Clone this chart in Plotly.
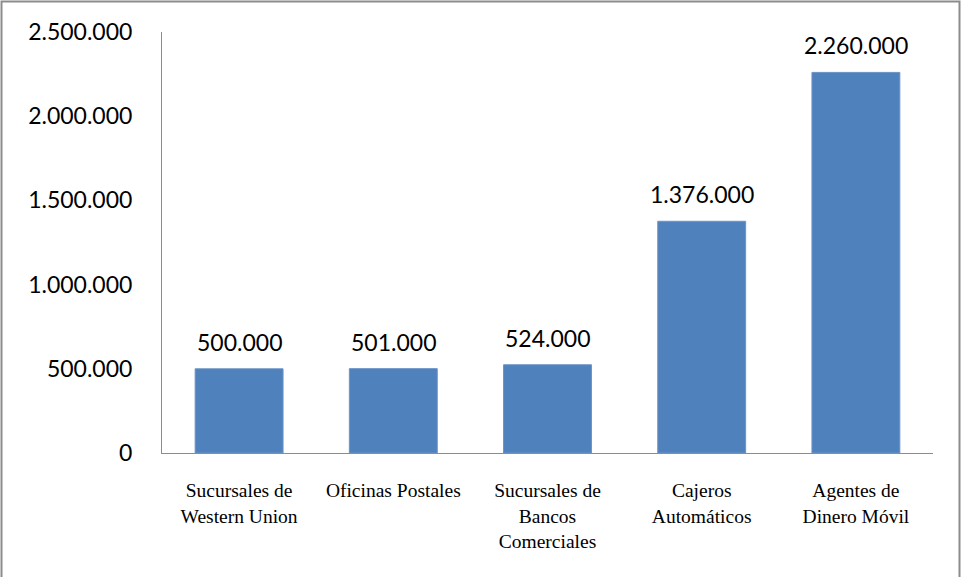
import plotly.graph_objects as go

categories = ["Sucursales de<br>Western Union", "Oficinas Postales", "Sucursales de<br>Bancos<br>Comerciales",
              "Cajeros<br>Automáticos", "Agentes de<br>Dinero Móvil"]
values = [500000, 501000, 524000, 1376000, 2260000]
value_labels = ["500.000", "501.000", "524.000", "1.376.000", "2.260.000"]
y_ticks = [0, 500000, 1000000, 1500000, 2000000, 2500000]
y_tick_labels = ["0", "500.000", "1.000.000", "1.500.000", "2.000.000", "2.500.000"]

W, H = 962, 577
L, R, T, B = 162, 29, 32, 124
pw, ph = W - L - R, H - T - B
num_font = dict(family="Lato, Open Sans, sans-serif", size=23, color="#000000")

fig = go.Figure(go.Bar(
    x=categories, y=values,
    marker=dict(color="#4F81BD", line=dict(color="#6B93C6", width=1)),
))

for c, v, t in zip(categories, values, value_labels):
    fig.add_annotation(x=c, y=v, text=t, showarrow=False, xanchor="center", yanchor="bottom",
                       yshift=11, font=num_font)

fig.update_layout(
    width=W, height=H,
    margin=dict(l=L, r=R, t=T, b=B, pad=0),
    paper_bgcolor="white", plot_bgcolor="white",
    bargap=0.43, showlegend=False,
    shapes=[dict(type="rect", xref="paper", yref="paper",
                 x0=(1.5 - L) / pw, x1=(W - 2.5 - L) / pw,
                 y0=-(H + 2 - T - ph) / ph, y1=(ph + T - 1.5) / ph,
                 line=dict(color="#8c8c8c", width=2))],
)
fig.update_yaxes(range=[0, 2500000], tickvals=y_ticks, ticktext=y_tick_labels,
                 showgrid=False, zeroline=False, showline=True, linecolor="#8c8c8c", linewidth=1,
                 ticks="", ticklabelstandoff=24, tickfont=num_font)
fig.update_xaxes(showgrid=False, showline=True, linecolor="#8c8c8c", linewidth=1, ticks="",
                 ticklabelstandoff=20, tickangle=0,
                 tickfont=dict(family="Liberation Serif, Times New Roman, serif", size=19.5, color="#000000"))

fig.write_html("out.html", config={"displayModeBar": False},
               post_script="document.body.style.margin='0';")
